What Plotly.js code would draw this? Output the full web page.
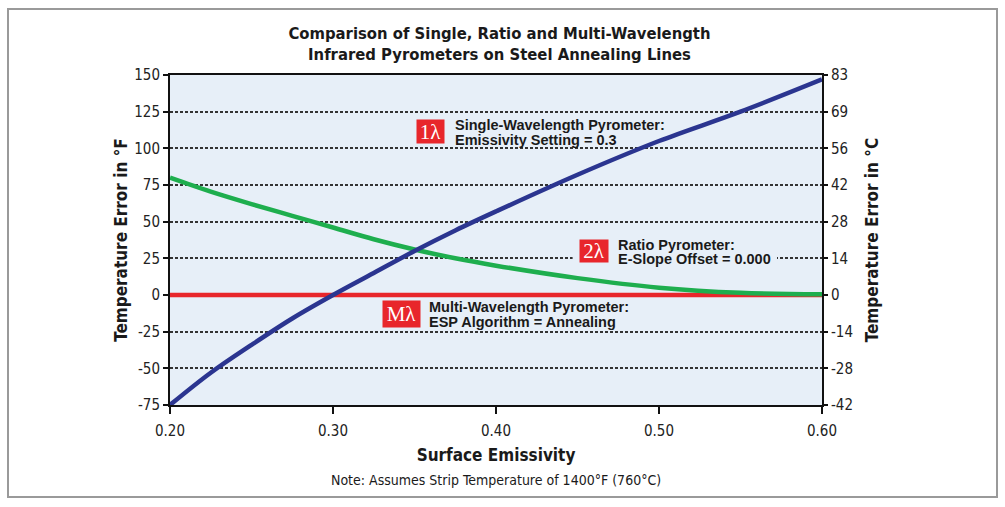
<!DOCTYPE html>
<html>
<head>
<meta charset="utf-8">
<script src="https://cdn.plot.ly/plotly-3.0.1.min.js"></script>
<style>
  html, body { margin: 0; padding: 0; background: #fff; }
  #wrap { position: relative; width: 1005px; height: 507px; }
  #chart { width: 1005px; height: 507px; }
  #frame { position: absolute; left: 7px; top: 8px; width: 987px; height: 486px;
           border: 2px solid #9a9a9a; pointer-events: none; }
</style>
</head>
<body>
<div id="wrap">
  <div id="chart"></div>
  <div id="frame"></div>
</div>
<script>
// ---- data ----
const emissivity = [0.20, 0.225, 0.25, 0.275, 0.30, 0.325, 0.35, 0.375, 0.40, 0.45, 0.50, 0.55, 0.60];
const singleWavelengthF = [-75, -53, -34, -16, 0, 15, 30, 44, 57, 82, 105, 125, 147];
const ratioF = [80, 70.5, 62, 54, 46, 38, 31, 25, 20, 11.5, 5, 1.5, 0.5];
const multiWavelengthF = [0, 0, 0, 0, 0, 0, 0, 0, 0, 0, 0, 0, 0];

const xTickVals = [0.20, 0.30, 0.40, 0.50, 0.60];
const xTickText = ['0.20', '0.30', '0.40', '0.50', '0.60'];
const yTickValsF = [-75, -50, -25, 0, 25, 50, 75, 100, 125, 150];
const yTickTextC = ['-42', '-28', '-14', '0', '14', '28', '42', '56', '69', '83'];

const chartTitle = 'Comparison of Single, Ratio and Multi-Wavelength<br>Infrared Pyrometers on Steel Annealing Lines';
const xTitle = 'Surface Emissivity';
const yTitleF = 'Temperature Error in °F';
const yTitleC = 'Temperature Error in °C';
const note = 'Note: Assumes Strip Temperature of 1400°F (760°C)';

const singleLabel = ['Single-Wavelength Pyrometer:', 'Emissivity Setting = 0.3'];
const ratioLabel = ['Ratio Pyrometer:', 'E-Slope Offset = 0.000'];
const multiLabel = ['Multi-Wavelength Pyrometer:', 'ESP Algorithm = Annealing'];

// ---- styles ----
const NARROW = '"DejaVu Sans Condensed", "Liberation Sans Narrow", sans-serif';
const SANS = '"Liberation Sans", Arial, sans-serif';
const SERIF = '"Liberation Serif", "Times New Roman", serif';
const PLOT_BG = '#e7eff8';
const BLUE = '#2b3590';
const GREEN = '#1eae4e';
const RED = '#e8262b';
const BOXRED = '#e8262b';

const fToC = v => v * 5 / 9;

const traces = [
  { x: emissivity, y: multiWavelengthF, mode: 'lines', line: { color: RED, width: 4.5 }, hoverinfo: 'skip' },
  { x: emissivity, y: ratioF, mode: 'lines', line: { color: GREEN, width: 4.5, shape: 'spline', smoothing: 1 }, hoverinfo: 'skip' },
  { x: emissivity, y: singleWavelengthF, mode: 'lines', line: { color: BLUE, width: 4.5, shape: 'spline', smoothing: 1 }, hoverinfo: 'skip' },
  // invisible trace to bind the right (°C) axis
  { x: [emissivity[0], emissivity[emissivity.length - 1]], y: [fToC(-75), fToC(150)], yaxis: 'y2', mode: 'lines',
    line: { width: 0 }, opacity: 0, hoverinfo: 'skip', showlegend: false }
];

function boxAnn(x, y, text, w, h) {
  return { x: x, y: y, xref: 'x', yref: 'y', text: text, showarrow: false,
           font: { family: SERIF, size: 21, color: '#ffffff' },
           bgcolor: BOXRED, width: w, height: h, borderpad: 0, align: 'center', valign: 'middle' };
}
function labelAnn(x, y, text) {
  return { x: x, y: y, xref: 'x', yref: 'y', text: text, showarrow: false,
           xanchor: 'left', yanchor: 'middle', align: 'left',
           font: { family: SANS, size: 14.5, color: '#1a1a1a', weight: 'bold' } };
}

const layout = {
  width: 1005, height: 507,
  margin: { l: 170, r: 183, t: 75, b: 102 },
  paper_bgcolor: '#ffffff',
  plot_bgcolor: PLOT_BG,
  showlegend: false,
  title: { text: chartTitle, font: { family: NARROW, size: 16.5, color: '#1a1a1a', weight: 'bold' },
           x: 0.497, xref: 'container', xanchor: 'center', y: 0.924, yref: 'container', yanchor: 'middle' },
  xaxis: {
    range: [0.2, 0.6], tickvals: xTickVals, ticktext: xTickText,
    showgrid: false, zeroline: false,
    showline: true, linecolor: '#111', linewidth: 2, mirror: true,
    ticks: 'outside', ticklen: 7, tickwidth: 2, tickcolor: '#111', ticklabelstandoff: 4,
    tickfont: { family: NARROW, size: 15, color: '#222' },
    title: { text: xTitle, font: { family: NARROW, size: 17, color: '#1a1a1a', weight: 'bold' }, standoff: 10 }
  },
  yaxis: {
    range: [-75, 150], tickvals: yTickValsF, ticktext: yTickValsF.map(String),
    showgrid: true, gridcolor: '#333', gridwidth: 2, griddash: '3px,2px',
    zeroline: false,
    showline: true, linecolor: '#111', linewidth: 2, mirror: true,
    ticks: 'outside', ticklen: 5, tickwidth: 2, tickcolor: '#111',
    tickfont: { family: NARROW, size: 15, color: '#222' },
    title: { text: yTitleF, font: { family: NARROW, size: 17, color: '#1a1a1a', weight: 'bold' }, standoff: 2 }
  },
  yaxis2: {
    overlaying: 'y', side: 'right',
    range: [fToC(-75), fToC(150)], tickvals: yTickValsF.map(fToC), ticktext: yTickTextC,
    showgrid: false, zeroline: false, showline: false,
    ticks: 'outside', ticklen: 5, tickwidth: 2, tickcolor: '#111',
    tickfont: { family: NARROW, size: 15, color: '#222' },
    title: { text: yTitleC, font: { family: NARROW, size: 17, color: '#1a1a1a', weight: 'bold' }, standoff: 14 }
  },
  shapes: [
    { type: 'rect', xref: 'x', yref: 'y', layer: 'between',
      x0: 0.447, x1: 0.5724, y0: 21.8, y1: 36.8, fillcolor: PLOT_BG, line: { width: 0 } }
  ],
  annotations: [
    boxAnn(0.36, 111.3, '1λ', 27, 23),
    labelAnn(0.3738, 115.9, singleLabel[0]),
    labelAnn(0.3738, 105.7, singleLabel[1]),
    boxAnn(0.4602, 30.3, '2λ', 28, 22),
    labelAnn(0.4736, 34.1, ratioLabel[0]),
    labelAnn(0.4736, 24.3, ratioLabel[1]),
    boxAnn(0.342, -12.7, 'Mλ', 37, 26),
    labelAnn(0.3579, -8.4, multiLabel[0]),
    labelAnn(0.3579, -18.6, multiLabel[1]),
    { x: 0.5, y: -(480 - 405) / 330, xref: 'paper', yref: 'paper', yanchor: 'middle', xanchor: 'center',
      showarrow: false, text: note, font: { family: NARROW, size: 14, color: '#1a1a1a' } }
  ]
};

Plotly.newPlot('chart', traces, layout, { staticPlot: true, displayModeBar: false });
</script>
</body>
</html>
